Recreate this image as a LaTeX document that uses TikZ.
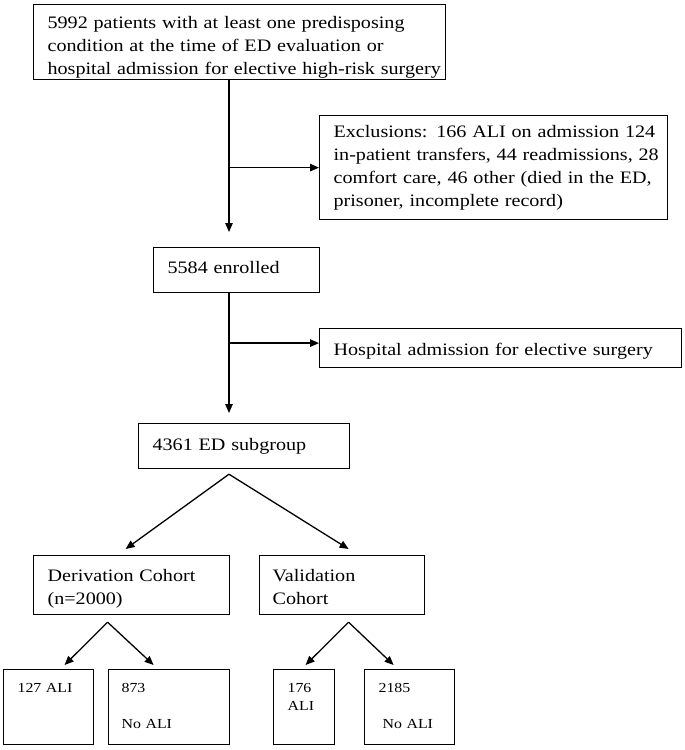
\documentclass[tikz,border=0pt]{standalone}
\usepackage{fontspec}
\setmainfont[FakeStretch=1.15]{Liberation Serif}
\usetikzlibrary{arrows.meta, calc}

\tikzset{
  flowbox/.style={draw, line width=1.2pt, anchor=north west, align=left,
    inner ysep=0pt, inner xsep=14pt, font=\fontsize{17.5}{23}\selectfont},
  smallbox/.style={flowbox, font=\fontsize{13.8}{18}\selectfont},
  flowarrow/.style={line width=1.3pt, -{Triangle[length=9pt,width=7.5pt]}}
}

\begin{document}
\begin{tikzpicture}[x=1pt, y=-1pt]
\useasboundingbox (0,0) rectangle (685,750);

 %%Parameters
%% x of the main vertical line
\def\spineX{229}
\coordinate (spine) at (\spineX, 0);

%% Main column
\node[flowbox, text width=384pt, text height=24pt, text depth=51pt] (screened) at (33,4)
  {\mbox{5992 patients with at least one predisposing}\\
   \mbox{condition at the time of ED evaluation or}\\
   \mbox{hospital admission for elective high-risk surgery}};
\node[flowbox, text width=320pt, text height=22pt, text depth=82pt] (excl) at (319,115)
  {\mbox{Exclusions: 166 ALI on admission 124}\\
   \mbox{in-patient transfers, 44 readmissions, 28}\\
   \mbox{comfort care, 46 other (died in the ED,}\\
   \mbox{prisoner, incomplete record)}};
\node[flowbox, text width=138pt, text height=26pt, text depth=19pt] (enrolled) at (153,247) {\mbox{5584 enrolled}};
\node[flowbox, text width=334pt, text height=27pt, text depth=12pt] (elective) at (319,328) {\mbox{Hospital admission for elective surgery}};
\node[flowbox, text width=183pt, text height=27pt, text depth=18pt] (subgroup) at (138,423) {\mbox{4361 ED subgroup}};

%% Cohorts
\node[flowbox, text width=168pt, text height=26pt, text depth=33pt] (derivation) at (33,555) {Derivation Cohort\\(n=2000)};
\node[flowbox, inner xsep=13pt, text width=139pt, text height=26pt, text depth=33pt] (validation) at (259,555) {Validation\\Cohort};

%% Outcome boxes
\node[smallbox, text width=62pt, text height=23pt, text depth=52pt] (aliD) at (3,669) {\mbox{127 ALI}};
\node[smallbox, inner xsep=13pt, text width=95pt, text height=23pt, text depth=52pt] (noaliD) at (108,669) {873\\[18pt]No ALI};
\node[smallbox, text width=33pt, text height=23pt, text depth=52pt] (aliV) at (273,669) {176\\ALI};
\node[smallbox, text width=62pt, text height=23pt, text depth=52pt] (noaliV) at (364,669) {2185\\[18pt]\hspace*{4pt}No ALI};

%% Connectors
\draw[flowarrow] (screened.south -| spine) -- ($(enrolled.north -| spine)+(0,-15)$);
\draw[flowarrow] (excl.west -| spine) -- (excl.west);
\draw[flowarrow] (enrolled.south -| spine) -- ($(subgroup.north -| spine)+(0,-10)$);
\draw[flowarrow] ($(elective.west -| spine)+(0,-5)$) -- ($(elective.west)+(0,-5)$);

\coordinate (splitA) at ($(subgroup.south -| spine)+(0,5)$);
\draw[flowarrow] (splitA) -- ($(derivation.north)+(-6,-6)$);
\draw[flowarrow] (splitA) -- ($(validation.north)+(6.5,-6)$);

\coordinate (splitB) at ($(derivation.south)+(-24,7)$);
\draw[flowarrow] (splitB) -- ($(aliD.north)+(16,-4)$);
\draw[flowarrow] (splitB) -- ($(noaliD.north)+(-15.5,-4)$);

\coordinate (splitC) at ($(validation.south)+(6.5,7)$);
\draw[flowarrow] (splitC) -- ($(aliV.north)+(1.5,-4)$);
\draw[flowarrow] (splitC) -- ($(noaliV.north)+(-16,-4)$);

\end{tikzpicture}
\end{document}
